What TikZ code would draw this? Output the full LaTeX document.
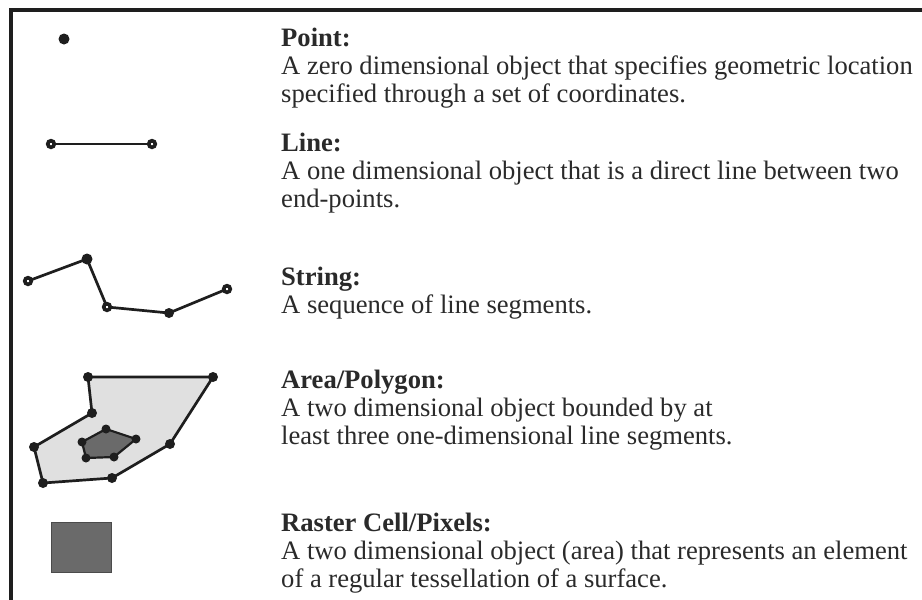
\documentclass[tikz,border=0pt]{standalone}
\usepackage{fontspec}
\setmainfont{Liberation Serif}
\definecolor{ink}{HTML}{1E1E1E}
\definecolor{txtc}{HTML}{2A2A2A}
\definecolor{lightfill}{HTML}{E0E0E0}
\definecolor{darkfill}{HTML}{6A6A6A}
\begin{document}
\begin{tikzpicture}[x=1pt,y=-1pt,
  dotv/.style={circle,fill=ink,inner sep=0pt,minimum size=10pt},
  smalldot/.style={circle,fill=ink,inner sep=0pt,minimum size=9pt},
  ring/.style={circle,draw=ink,line width=3.6pt,fill=white,inner sep=0pt,minimum size=6.6pt},
  seg/.style={draw=ink,line width=2.7pt,line join=round},
  frameline/.style={draw=ink,line width=3.5pt},
  txt/.style={anchor=base west,inner sep=0pt,align=left,text=txtc,
              font=\fontsize{26.6}{27.6}\selectfont}]
\useasboundingbox (0,0) rectangle (922,600);
\fill[white] (0,0) rectangle (922,600);
% frame
\coordinate (fb) at (11,600);
\coordinate (fc) at (11,10);
\coordinate (fr) at (922,10);
\draw[frameline] (fb) -- (fc) -- (fr);

% Point
\node[dotv,minimum size=11pt] (pt) at (64,39) {};

% Line
\coordinate (l1c) at (51,144);
\coordinate (l2c) at (152,144);
\draw[seg,line width=2.4pt] (l1c) -- (l2c);
\node[ring] (l1) at (l1c) {};
\node[ring] (l2) at (l2c) {};

% String
\coordinate (s1c) at (28,281);
\coordinate (s2c) at (87,259);
\coordinate (s3c) at (107,307);
\coordinate (s4c) at (169,313);
\coordinate (s5c) at (227,289);
\draw[seg] (s1c) -- (s2c) -- (s3c) -- (s4c) -- (s5c);
\node[ring] (s1) at (s1c) {};
\node[dotv,minimum size=11pt] (s2) at (s2c) {};
\node[ring] (s3) at (s3c) {};
\node[dotv] (s4) at (s4c) {};
\node[ring] (s5) at (s5c) {};

% Area / polygon
\coordinate (a1) at (88,377);
\coordinate (a2) at (213,377);
\coordinate (a3) at (170,444);
\coordinate (a4) at (112,478);
\coordinate (a5) at (43,483);
\coordinate (a6) at (34,447);
\coordinate (a7) at (92,413);
\fill[lightfill] (a1) -- (a2) -- (a3) -- (a4) -- (a5) -- (a6) -- (a7) -- cycle;
\draw[seg] (a1) -- (a2) -- (a3) -- (a4) -- (a5) -- (a6) -- (a7) -- cycle;
\coordinate (b1) at (106,429);
\coordinate (b2) at (136,439);
\coordinate (b3) at (114,457);
\coordinate (b4) at (86,458);
\coordinate (b5) at (82,442);
\fill[darkfill] (b1) -- (b2) -- (b3) -- (b4) -- (b5) -- cycle;
\draw[seg,line width=2.2pt] (b1) -- (b2) -- (b3) -- (b4) -- (b5) -- cycle;
\foreach \v in {a1,a2,a3,a4,a5,a6,a7} {\node[dotv] (d\v) at (\v) {};}
\foreach \v in {b1,b2,b3,b4,b5} {\node[smalldot] (d\v) at (\v) {};}

% Raster cell
\node[draw=ink!80,line width=1pt,fill=darkfill,minimum width=60pt,minimum height=50pt,inner sep=0pt] (rc) at (81,547) {};

% Texts (anchored at the baseline of their last line)
\node[txt] (t1) at (281,102) {\textbf{Point:}\\A zero dimensional object that specifies geometric location\\specified through a set of coordinates.};
\node[txt] (t2) at (281,207) {\textbf{Line:}\\A one dimensional object that is a direct line between two\\end-points.};
\node[txt] (t3) at (281,313) {\textbf{String:}\\A sequence of line segments.};
\node[txt] (t4) at (281,444) {\textbf{Area/Polygon:}\\A two dimensional object bounded by at\\least three one-dimensional line segments.};
\node[txt] (t5) at (281,587) {\textbf{Raster Cell/Pixels:}\\A two dimensional object (area) that represents an element\\of a regular tessellation of a surface.};
\end{tikzpicture}
\end{document}
